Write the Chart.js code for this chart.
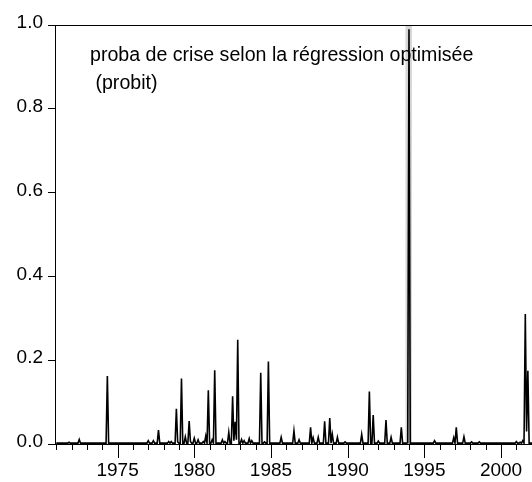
<!DOCTYPE html>
<html>
<head>
<meta charset="utf-8">
<script src="https://cdn.jsdelivr.net/npm/chart.js@4"></script>
<style>
  body { margin: 0; background: #fff; overflow: hidden; }
</style>
</head>
<body>
<canvas id="probitChart" width="532" height="482"></canvas>
<script>
// monthly series, first observation = January 1971
var startYear = 1971;
var monthlyProba = [
  0.002,0.002,0.002,0.002,0.002,0.002,0.002,0.002,0.002,0.002,0.004,0.002, // 1971
  0.002,0.002,0.002,0.002,0.002,0.002,0.011,0.002,0.002,0.002,0.002,0.002, // 1972
  0.002,0.002,0.002,0.002,0.002,0.002,0.002,0.002,0.002,0.002,0.002,0.002, // 1973
  0.002,0.002,0.002,0.002,0.162,0.002,0.002,0.002,0.002,0.002,0.002,0.002, // 1974
  0.002,0.002,0.002,0.002,0.002,0.002,0.002,0.002,0.002,0.002,0.002,0.002, // 1975
  0.002,0.002,0.002,0.002,0.002,0.002,0.002,0.002,0.002,0.002,0.002,0.002, // 1976
  0.008,0.002,0.002,0.002,0.008,0.002,0.002,0.002,0.033,0.002,0.002,0.002, // 1977
  0.002,0.002,0.002,0.002,0.006,0.002,0.006,0.002,0.002,0.002,0.084,0.005, // 1978
  0.002,0.002,0.156,0.002,0.002,0.017,0.002,0.002,0.055,0.006,0.002,0.002, // 1979
  0.014,0.002,0.002,0.010,0.002,0.002,0.002,0.006,0.002,0.019,0.002,0.128, // 1980
  0.002,0.002,0.010,0.002,0.176,0.002,0.002,0.002,0.002,0.002,0.010,0.002, // 1981
  0.006,0.002,0.002,0.028,0.002,0.002,0.114,0.008,0.053,0.010,0.249,0.002, // 1982
  0.002,0.011,0.002,0.008,0.002,0.002,0.002,0.013,0.002,0.008,0.002,0.002, // 1983
  0.002,0.002,0.002,0.002,0.170,0.002,0.002,0.005,0.002,0.002,0.197,0.002, // 1984
  0.002,0.002,0.002,0.002,0.002,0.002,0.002,0.002,0.016,0.002,0.002,0.002, // 1985
  0.002,0.002,0.002,0.002,0.002,0.002,0.031,0.002,0.002,0.002,0.010,0.002, // 1986
  0.002,0.002,0.002,0.002,0.002,0.002,0.002,0.040,0.002,0.015,0.002,0.002, // 1987
  0.002,0.016,0.002,0.002,0.002,0.002,0.054,0.002,0.002,0.002,0.062,0.002, // 1988
  0.023,0.002,0.002,0.002,0.016,0.002,0.002,0.002,0.002,0.002,0.005,0.002, // 1989
  0.002,0.002,0.002,0.002,0.002,0.002,0.002,0.002,0.002,0.002,0.002,0.023, // 1990
  0.002,0.002,0.002,0.002,0.002,0.125,0.002,0.002,0.069,0.002,0.002,0.002, // 1991
  0.007,0.002,0.002,0.002,0.002,0.002,0.057,0.002,0.002,0.002,0.016,0.002, // 1992
  0.002,0.002,0.002,0.002,0.002,0.002,0.040,0.002,0.002,0.002,0.002,0.003, // 1993
  0.990,0.002,0.002,0.002,0.002,0.002,0.002,0.002,0.002,0.002,0.002,0.002, // 1994
  0.002,0.002,0.002,0.002,0.002,0.002,0.002,0.002,0.008,0.002,0.002,0.002, // 1995
  0.002,0.002,0.002,0.002,0.002,0.002,0.002,0.002,0.002,0.002,0.002,0.015, // 1996
  0.002,0.040,0.002,0.002,0.002,0.002,0.002,0.017,0.002,0.002,0.002,0.002, // 1997
  0.002,0.005,0.002,0.002,0.002,0.002,0.002,0.005,0.002,0.002,0.002,0.002, // 1998
  0.002,0.002,0.002,0.002,0.002,0.002,0.002,0.002,0.002,0.002,0.002,0.002, // 1999
  0.002,0.002,0.002,0.002,0.002,0.002,0.002,0.002,0.002,0.002,0.002,0.002, // 2000
  0.006,0.002,0.002,0.004,0.002,0.008,0.002,0.310,0.030,0.175,0.002,0.002, // 2001
  0.002,0.002,0.002,0.002,0.002,0.002                                      // 2002
];

// shaded crisis period (decimal years)
var crisisStart = [1993.77];
var crisisEnd = [1994.19];

var yTicks = [0, 0.2, 0.4, 0.6, 0.8, 1.0];
var xLabelYears = [1975, 1980, 1985, 1990, 1995, 2000];

var noteLines = ['proba de crise selon la régression optimisée', ' (probit)'];

var points = monthlyProba.map(function (v, i) {
  return { x: startYear + i / 12, y: v };
});

var fontName = '"Liberation Sans", Arial, sans-serif';

// grey band + note text, drawn under the line
var bandPlugin = {
  id: 'bandPlugin',
  beforeDatasetsDraw: function (chart) {
    var ctx = chart.ctx;
    var area = chart.chartArea;
    var xs = chart.scales.x;
    ctx.save();
    ctx.fillStyle = '#d6d6d6';
    for (var k = 0; k < crisisStart.length; k++) {
      var x0 = xs.getPixelForValue(crisisStart[k]);
      var x1 = xs.getPixelForValue(crisisEnd[k]);
      ctx.fillRect(x0, area.top, x1 - x0, area.bottom - area.top);
    }
    ctx.fillStyle = '#000';
    ctx.font = '19.6px ' + fontName;
    ctx.textAlign = 'left';
    ctx.textBaseline = 'alphabetic';
    ctx.fillText(noteLines[0], 90, 61);
    ctx.fillText(noteLines[1], 90, 89);
    ctx.restore();
  },
  afterDraw: function (chart) {
    var ctx = chart.ctx;
    var area = chart.chartArea;
    var xs = chart.scales.x;
    ctx.save();
    ctx.strokeStyle = '#000';
    ctx.lineWidth = 1;
    // top frame line
    ctx.beginPath();
    ctx.moveTo(area.left, area.top + 0.5);
    ctx.lineTo(area.right, area.top + 0.5);
    ctx.stroke();
    // yearly ticks, longer every 5 years
    for (var yr = Math.ceil(xs.min); yr <= Math.floor(xs.max); yr++) {
      var px = Math.round(xs.getPixelForValue(yr)) + 0.5;
      var len = (yr % 5 === 0) ? 14 : 6;
      ctx.beginPath();
      ctx.moveTo(px, area.bottom);
      ctx.lineTo(px, area.bottom + len);
      ctx.stroke();
    }
    ctx.restore();
  }
};

var chartConfig = {
  type: 'line',
  data: {
    datasets: [{
      label: 'proba',
      data: points,
      borderColor: '#000',
      borderWidth: 1.6,
      pointRadius: 0,
      tension: 0,
      fill: false
    }]
  },
  options: {
    responsive: false,
    animation: false,
    devicePixelRatio: 1,
    layout: {
      autoPadding: false,
      padding: { top: 25, left: 0, right: 0, bottom: 0 }
    },
    plugins: {
      legend: { display: false },
      tooltip: { enabled: false }
    },
    scales: {
      x: {
        type: 'linear',
        min: 1970.92,
        max: 2002.02,
        afterFit: function (scale) {
          scale.height = 38;
          scale.paddingLeft = 0;
          scale.paddingRight = 0;
        },
        grid: { display: false, drawTicks: false },
        border: { display: true, color: '#000', width: 1 },
        ticks: {
          stepSize: 1,
          autoSkip: false,
          maxRotation: 0,
          padding: 15,
          color: '#000',
          font: { family: fontName, size: 19 },
          callback: function (v) {
            return xLabelYears.indexOf(v) >= 0 ? String(v) : '';
          }
        }
      },
      y: {
        min: 0,
        max: 1,
        afterFit: function (scale) { scale.width = 55; },
        afterBuildTicks: function (scale) {
          scale.ticks = yTicks.map(function (v) { return { value: v }; });
        },
        grid: {
          drawOnChartArea: false,
          drawTicks: true,
          tickLength: 7,
          tickColor: '#000',
          tickWidth: 1
        },
        border: { display: true, color: '#000', width: 1 },
        ticks: {
          padding: 5,
          labelOffset: -2,
          color: '#000',
          font: { family: fontName, size: 19 },
          callback: function (v) { return v.toFixed(1); }
        }
      }
    }
  },
  plugins: [bandPlugin]
};

var ctx = document.getElementById('probitChart').getContext('2d');
var myChart = new Chart(ctx, chartConfig);
</script>
</body>
</html>
